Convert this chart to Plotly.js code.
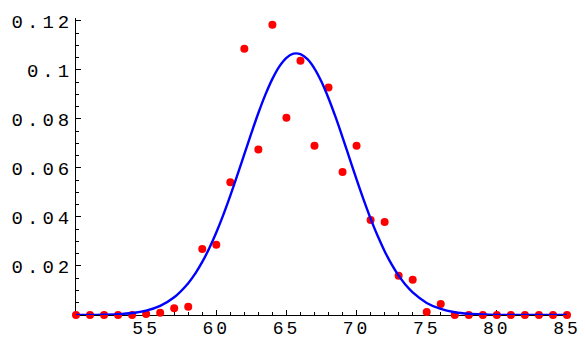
<!DOCTYPE html>
<html>
<head>
<meta charset="utf-8">
<script src="https://cdn.plot.ly/plotly-3.0.1.min.js"></script>
<style>
html, body { margin: 0; padding: 0; background: #fff; }
#chart { width: 585px; height: 339px; }
.xtick text { letter-spacing: 3px; }
.ytick text { letter-spacing: 4px; }
</style>
</head>
<body>
<div id="chart"></div>
<script>
// Observed frequencies (red dots)
const dataX = [50,51,52,53,54,55,56,57,58,59,60,61,62,63,64,65,66,67,68,69,70,71,72,73,74,75,76,77,78,79,80,81,82,83,84,85];
const dataY = [0,0,0,0,0,0.0004,0.0009,0.0028,0.0034,0.0269,0.0287,0.0542,0.1087,0.0675,0.1184,0.0805,0.1038,0.0691,0.0928,0.0584,0.0691,0.0388,0.0380,0.0160,0.0144,0.0012,0.0045,0,0,0,0,0,0,0,0,0];

// Fitted density curve (blue line)
const curveX = [50,51,52,53,54,55,56,57,58,58.5,59,59.5,60,60.5,61,61.5,62,62.5,63,63.5,64,64.5,65,65.5,66,66.5,67,67.5,68,68.5,69,69.5,70,70.5,71,71.5,72,72.5,73,73.5,74,75,76,77,78,79,80,81,82,83,84,85];
const curveY = [0.00002,0.00005,0.00013,0.00034,0.00082,0.00182,0.00376,0.00724,0.01298,0.01690,0.02165,0.02722,0.03364,0.04084,0.04869,0.05704,0.06564,0.07420,0.08242,0.08992,0.09637,0.10147,0.10495,0.10665,0.10646,0.10440,0.10057,0.09518,0.08848,0.08082,0.07252,0.06392,0.05534,0.04708,0.03934,0.03230,0.02605,0.02063,0.01605,0.01228,0.00922,0.00493,0.00246,0.00114,0.00049,0.00020,0.00007,0.00003,0.00001,0,0,0];

// Tick labels
const xTickVals = [55,60,65,70,75,80,85];
const xTickText = ["55","60","65","70","75","80","85"];
const yTickVals = [0.02,0.04,0.06,0.08,0.1,0.12];
const yTickText = ["0.02","0.04","0.06","0.08","0.1","0.12"];

const traces = [
  {
    x: dataX, y: dataY, type: 'scatter', mode: 'markers',
    marker: { color: '#ff0000', size: 8 },
    cliponaxis: false, hoverinfo: 'skip'
  },
  {
    x: curveX, y: curveY, type: 'scatter', mode: 'lines',
    line: { color: '#0000ff', width: 2.4, shape: 'spline', smoothing: 1 },
    cliponaxis: false, hoverinfo: 'skip'
  }
];

const tickFont = { family: 'Liberation Mono, Courier New, monospace', size: 19, color: '#000' };

const layout = {
  width: 585, height: 339,
  margin: { l: 76, r: 18, t: 18, b: 24, pad: 0 },
  paper_bgcolor: '#fff', plot_bgcolor: '#fff',
  showlegend: false,
  xaxis: {
    range: [50, 85], showgrid: false, zeroline: false,
    showline: true, linecolor: '#000', linewidth: 1,
    tickmode: 'array', tickvals: xTickVals, ticktext: xTickText,
    ticks: 'inside', ticklen: 5, tickwidth: 1, tickcolor: '#000',
    minor: { tickmode: 'linear', tick0: 50, dtick: 1, ticks: 'inside', ticklen: 3, tickwidth: 1, tickcolor: '#000', showgrid: false },
    tickfont: { family: 'Liberation Mono, Courier New, monospace', size: 18, color: '#000' }, ticklabelstandoff: -4,
    layer: 'below traces', fixedrange: true
  },
  yaxis: {
    range: [0, 0.1212], showgrid: false, zeroline: false,
    showline: true, linecolor: '#000', linewidth: 1,
    tickmode: 'array', tickvals: yTickVals, ticktext: yTickText,
    ticks: 'inside', ticklen: 5, tickwidth: 1, tickcolor: '#000',
    minor: { tickmode: 'linear', tick0: 0, dtick: 0.005, ticks: 'inside', ticklen: 3, tickwidth: 1, tickcolor: '#000', showgrid: false },
    tickfont: tickFont, ticklabelstandoff: -2,
    layer: 'below traces', fixedrange: true
  }
};

Plotly.newPlot('chart', traces, layout, { displayModeBar: false, staticPlot: true });
</script>
</body>
</html>
